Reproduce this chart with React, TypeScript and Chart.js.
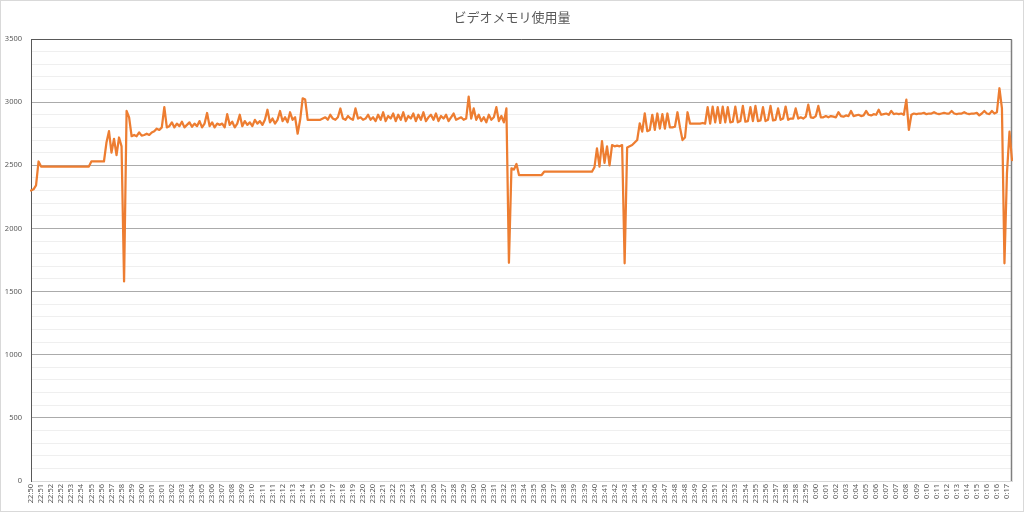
import { useEffect, useRef } from 'react';
import { Chart, registerables } from 'chart.js';

Chart.register(...registerables);

const chartTitle = 'ビデオメモリ使用量';

const tickLabels = [
  '22:50', '22:51', '22:52', '22:52', '22:53', '22:54', '22:55', '22:56', '22:57', '22:58', '22:59', '23:00', '23:01', '23:01', '23:02', '23:03', '23:04', '23:05', '23:06', '23:07', '23:08', '23:09', '23:10',
  '23:11', '23:11', '23:12', '23:13', '23:14', '23:15', '23:16', '23:17', '23:18', '23:19', '23:20', '23:20', '23:21', '23:22', '23:23', '23:24', '23:25', '23:26', '23:27', '23:28', '23:29', '23:30', '23:30', '23:31', '23:32',
  '23:33', '23:34', '23:35', '23:36', '23:37', '23:38', '23:39', '23:39', '23:40', '23:41', '23:42', '23:43', '23:44', '23:45', '23:46', '23:47', '23:48', '23:48', '23:49', '23:50', '23:51', '23:52', '23:53', '23:54', '23:55',
  '23:56', '23:57', '23:58', '23:58', '23:59', '0:00', '0:01', '0:02', '0:03', '0:04', '0:05', '0:06', '0:07', '0:07', '0:08', '0:09', '0:10', '0:11', '0:12', '0:13', '0:14', '0:15', '0:16', '0:16', '0:17',
];

const pointsPerLabel = 4;

const videoMemoryMB = [
  2300, 2310, 2340, 2530,
  2490, 2490, 2490, 2490, 2490, 2490, 2490, 2490, 2490, 2490, 2490, 2490, 2490, 2490, 2490, 2490, 2490, 2490, 2490, 2490,
  2530, 2530, 2530, 2530, 2530, 2530,
  2680, 2770, 2600, 2710, 2580, 2720, 2650,
  1580, 2930, 2880,
  2730, 2740, 2730, 2760, 2735, 2740, 2750, 2740, 2760,
  2770, 2790, 2780, 2800, 2960, 2800,
  2810, 2840, 2800, 2830, 2810, 2845, 2800, 2820, 2840, 2805, 2830, 2810, 2850, 2800, 2830, 2914, 2810, 2840, 2800, 2830, 2820,
  2830, 2800, 2905, 2820, 2845, 2800, 2830, 2900, 2810, 2850, 2820, 2840, 2810, 2860, 2830, 2850, 2820, 2860, 2940, 2840,
  2870, 2830, 2860, 2930, 2850, 2880, 2840, 2920, 2860, 2880, 2750, 2860, 3030, 3020, 2860, 2860, 2860, 2860, 2860, 2860,
  2870, 2880, 2860, 2900, 2870, 2860, 2880, 2950, 2870, 2860, 2890, 2870, 2860, 2950, 2870, 2880, 2860, 2870, 2900, 2860,
  2880, 2850, 2900, 2860, 2920, 2850, 2890, 2870, 2910, 2850, 2900, 2860, 2920, 2850, 2890, 2870, 2910, 2850, 2900, 2860,
  2920, 2850, 2880, 2900, 2860, 2910, 2850, 2890, 2870, 2900, 2850, 2880, 2910, 2860, 2870, 2880, 2860, 2870, 3043, 2870,
  2950, 2860, 2900, 2850, 2880, 2840, 2900, 2860, 2880, 2960, 2850, 2890, 2840, 2950,
  1728, 2476, 2466, 2510,
  2423, 2423, 2423, 2423, 2423, 2423, 2423, 2423, 2423, 2423,
  2449, 2449, 2449, 2449, 2449, 2449, 2449, 2449, 2449, 2449, 2449, 2449, 2449, 2449, 2449, 2449, 2449, 2449, 2449, 2449,
  2484, 2634, 2490, 2692,
  2520, 2650, 2500, 2660,
  2650, 2655, 2650, 2660,
  1724,
  2640, 2650, 2660, 2680, 2700,
  2832, 2766, 2911, 2770, 2780, 2900, 2780, 2910, 2790, 2905, 2790, 2910, 2800, 2800, 2805, 2920, 2800, 2700, 2720, 2920,
  2830, 2830, 2830, 2830, 2830, 2835, 2830, 2960, 2830, 2965, 2840, 2960, 2835, 2965, 2840,
  2960, 2840, 2845, 2965, 2840, 2850, 2970, 2845, 2850, 2960, 2850, 2970, 2850, 2855, 2960, 2850, 2860, 2970, 2855, 2860,
  2950, 2860, 2870, 2965, 2860, 2870, 2870, 2950, 2870,
  2880, 2870, 2885, 2980, 2880, 2875, 2890, 2970, 2880, 2880, 2890, 2880, 2890, 2885, 2880, 2920, 2890, 2885, 2895, 2890,
  2930, 2890, 2895, 2900, 2890, 2895, 2930, 2900, 2895, 2905, 2900, 2940, 2900, 2905, 2910, 2900, 2930, 2905, 2910, 2905,
  2910, 2900,
  3020, 2780, 2900, 2910, 2905,
  2910, 2910, 2915, 2905, 2910, 2910, 2920, 2910, 2905, 2910, 2915, 2910, 2910, 2930, 2910, 2905,
  2910, 2910, 2920, 2910, 2905, 2910, 2910, 2915, 2895, 2910, 2930, 2910, 2905, 2930, 2910, 2920,
  3110, 2950, 1724, 2440, 2766, 2540,
];

const yMin = 0;
const yMax = 3500;
const yMajorStep = 500;
const yMinorStep = 100;

const pointLabels = videoMemoryMB.map((_, i) =>
  i % pointsPerLabel === 0 ? tickLabels[i / pointsPerLabel] ?? '' : ''
);

const framePlugin = {
  id: 'frame',
  beforeDraw(chart: any) {
    const { ctx, width, height } = chart;
    ctx.save();
    ctx.fillStyle = '#ffffff';
    ctx.fillRect(0, 0, width, height);
    ctx.strokeStyle = '#D9D9D9';
    ctx.lineWidth = 1;
    ctx.strokeRect(0.5, 0.5, width - 1, height - 1);
    ctx.fillStyle = '#595959';
    ctx.font = '13px "Noto Sans CJK JP", sans-serif';
    ctx.textAlign = 'center';
    ctx.textBaseline = 'middle';
    ctx.fillText(chartTitle, width / 2, 17);
    ctx.restore();
  },
  beforeDatasetsDraw(chart: any) {
    const { ctx, chartArea: a } = chart;
    const l = Math.round(a.left) + 0.5;
    const r = Math.round(a.right) - 0.5;
    const t = Math.round(a.top) + 0.5;
    const b = Math.round(a.bottom);
    ctx.save();
    ctx.lineWidth = 1;
    ctx.strokeStyle = '#595959';
    ctx.beginPath();
    ctx.moveTo(l, b);
    ctx.lineTo(l, t);
    ctx.lineTo(r, t);
    ctx.stroke();
    ctx.strokeStyle = '#7F7F7F';
    ctx.lineWidth = 1.5;
    ctx.beginPath();
    ctx.moveTo(r, t);
    ctx.lineTo(r, b);
    ctx.stroke();
    ctx.restore();
  },
};

export default function App() {
  const canvasRef = useRef<HTMLCanvasElement | null>(null);

  useEffect(() => {
    document.body.style.margin = '0';
    const canvas = canvasRef.current;
    if (!canvas) return;
    const chart = new Chart(canvas, {
      type: 'line',
      data: {
        labels: pointLabels,
        datasets: [
          {
            label: chartTitle,
            data: videoMemoryMB,
            borderColor: '#ED7D31',
            backgroundColor: '#ED7D31',
            borderWidth: 2.25,
            pointRadius: 0,
            pointHoverRadius: 0,
            tension: 0,
            borderJoinStyle: 'round',
            borderCapStyle: 'round',
            fill: false,
          },
        ],
      },
      options: {
        animation: false,
        responsive: false,
        devicePixelRatio: 1,
        layout: { padding: { top: 39, right: 10, left: 0, bottom: 0 } },
        plugins: {
          legend: { display: false },
          title: { display: false },
          tooltip: { enabled: false },
        },
        scales: {
          x: {
            type: 'category',
            offset: false,
            grid: { display: false, drawTicks: false },
            border: { display: true, color: '#D9D9D9' },
            ticks: {
              autoSkip: false,
              maxRotation: 90,
              minRotation: 90,
              padding: 3,
              color: '#595959',
              font: { family: '"Noto Sans", sans-serif', size: 7.5 },
            },
            afterFit(scale: any) {
              scale.height = 31;
            },
          },
          y: {
            min: yMin,
            max: yMax,
            grid: {
              drawTicks: false,
              lineWidth: 1,
              color: (c: any) => {
                const v = c.tick?.value ?? 0;
                if (v === 0) return '#D9D9D9';
                return v % yMajorStep === 0 ? '#ABABAB' : '#EFEFEF';
              },
            },
            border: { display: true, color: '#595959' },
            ticks: {
              stepSize: yMinorStep,
              autoSkip: false,
              padding: 9,
              color: '#595959',
              font: { family: '"Noto Sans", sans-serif', size: 7.5 },
              callback: (v: any) => (Number(v) % yMajorStep === 0 ? String(v) : ''),
            },
            afterFit(scale: any) {
              scale.width = 31;
            },
          },
        },
      },
      plugins: [framePlugin],
    });
    return () => chart.destroy();
  }, []);

  return (
    <div style={{ width: 1024, height: 512, position: 'relative' }}>
      <canvas ref={canvasRef} width={1024} height={512} style={{ display: 'block' }} />
    </div>
  );
}
